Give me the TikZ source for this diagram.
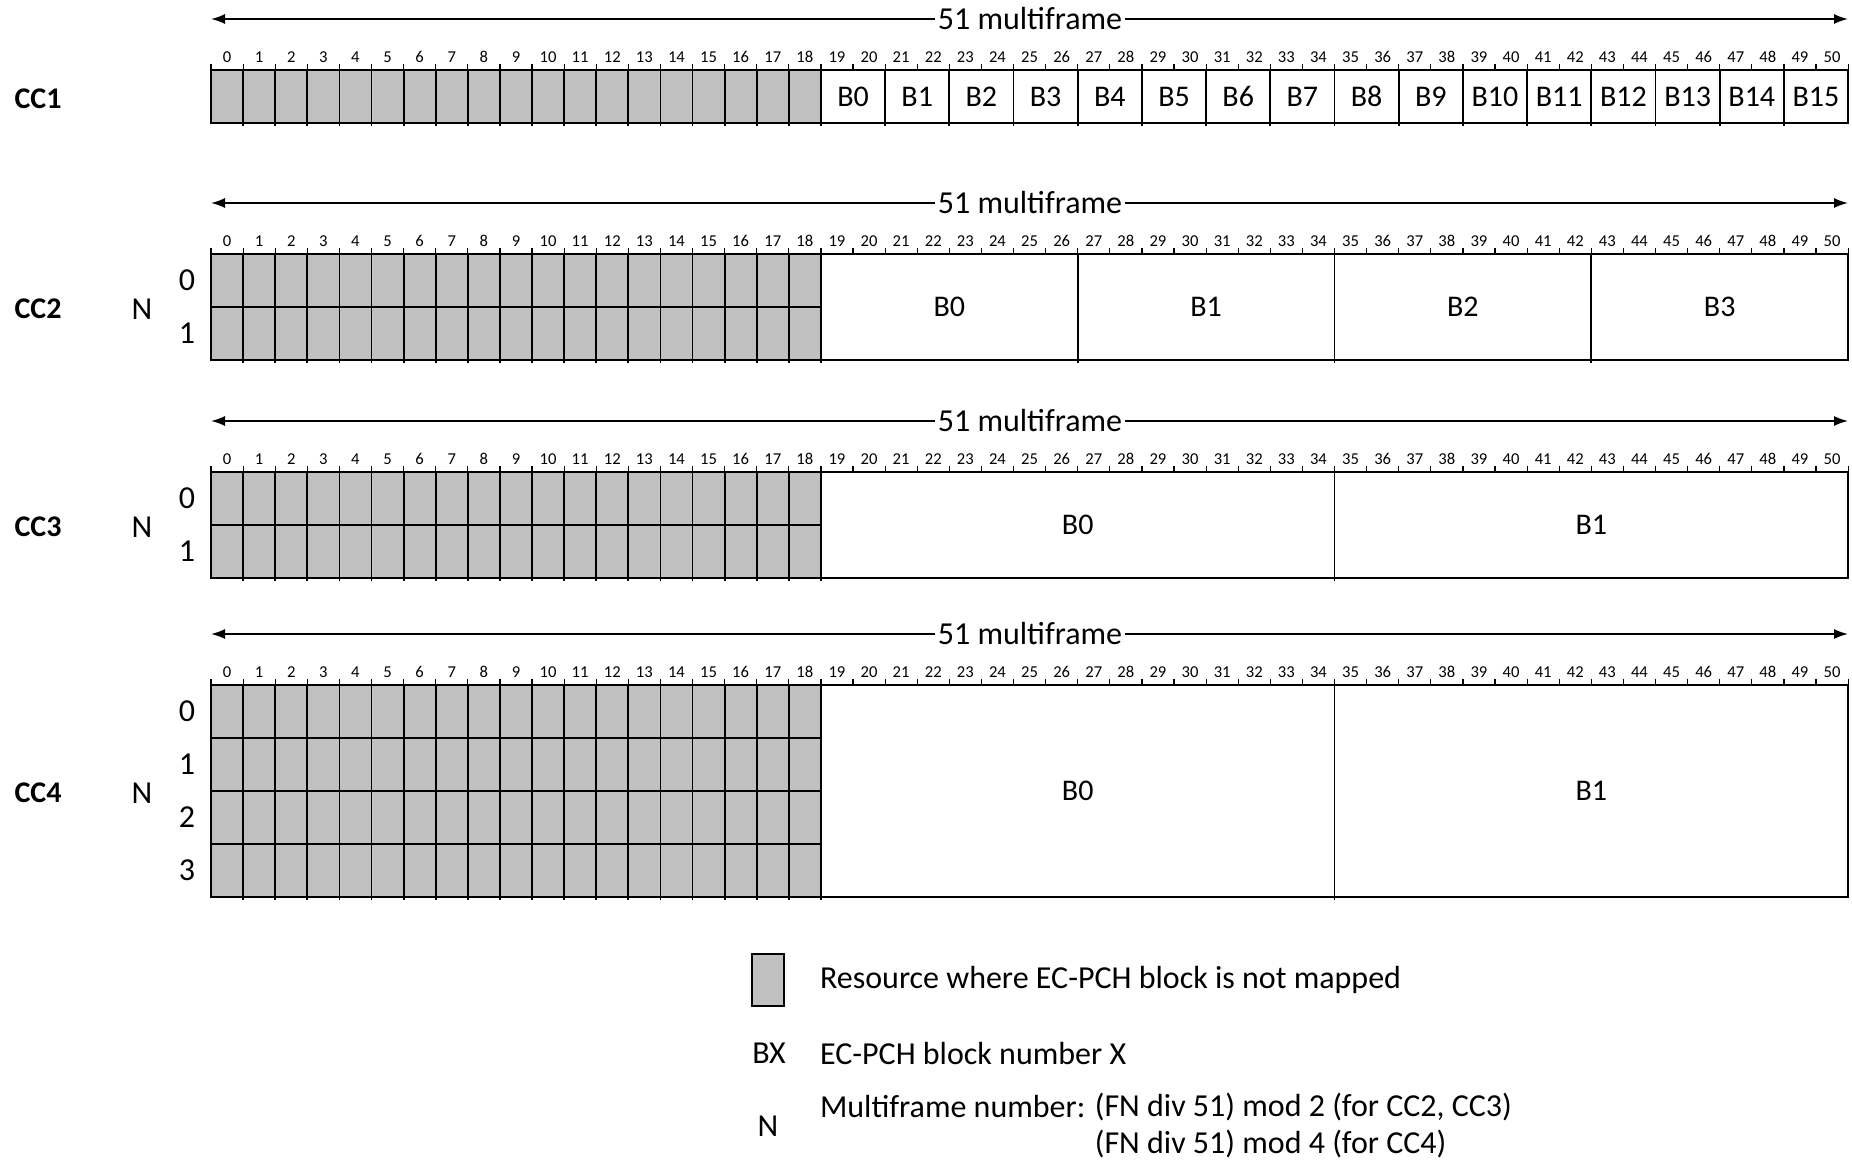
\documentclass[tikz,border=0pt]{standalone}
\usepackage{fontspec}
\setmainfont{Carlito}
\usepackage{tikz}
\usetikzlibrary{arrows.meta,calc,positioning}
\definecolor{Ink}{HTML}{000000}
\definecolor{Unmapped}{HTML}{C0C0C0}

\begin{document}
\begin{tikzpicture}[x=0.5pt,y=-0.5pt,>={Latex[length=7pt,width=5pt]},
  every node/.style={font=\fontsize{16}{19}\selectfont},
  ccname/.style={font=\fontsize{15}{18}\selectfont\bfseries},
  slotnum/.style={font=\fontsize{8.3}{9}\selectfont,inner sep=0pt},
  blockname/.style={font=\fontsize{15}{18}\selectfont},
  frame/.style={draw=Ink,line width=1.1pt},
  divider/.style={draw=Ink,line width=0.9pt},
  tickmark/.style={draw=Ink,line width=0.6pt},
  span/.style={->,draw=Ink,line width=0.8pt}]
  \useasboundingbox (0,0) rectangle (1852,1161);

  \foreach \cc/\ytop/\rows/\len in {1/70/1/2,2/254/2/8,3/472/2/16,4/685/4/16}{
    \pgfmathsetmacro\ybot{\ytop+53*\rows}
    \pgfmathsetmacro\ymid{(\ytop+\ybot)/2}
    \pgfmathtruncatemacro\nb{32/\len-1}
    \coordinate (l\cc) at (211,\ytop-51);
    \coordinate (r\cc) at (1848,\ytop-51);
    \node[fill=white,inner sep=1pt] (mf\cc) at (1030,\ytop-51) {51 multiframe};
    \draw[span] (mf\cc) -- (l\cc);
    \draw[span] (mf\cc) -- (r\cc);
    \fill[Unmapped] (211,\ytop) rectangle (820.9,\ybot);
    \foreach \i in {1,...,18}
      \draw[divider] ({211+32.1*\i},\ytop) -- ({211+32.1*\i},\ybot+3);
    \foreach \k in {1,2,3}{
      \ifnum\k<\rows \draw[divider] (211,{\ytop+53*\k}) -- (820.9,{\ytop+53*\k}); \fi
    }
    \foreach \j in {0,...,\nb}{
      \draw[divider] ({211+32.1*(19+\len*\j)},\ytop) -- ({211+32.1*(19+\len*\j)},\ybot+3);
      \node[blockname] (cc\cc b\j) at ({211+32.1*(19+\len*(\j+0.5))},\ymid) {B\j};
    }
    \draw[frame] (211,\ytop) rectangle (1848.1,\ybot);
    \foreach \i in {0,...,50}
      \node[slotnum] at ({211+32.1*(\i+0.5)},\ytop-13) {\i};
    \foreach \i in {0,...,51}
      \draw[tickmark] ({211+32.1*\i},\ytop) -- ({211+32.1*\i},\ytop-6);
    \node[ccname] (cc\cc) at (38,\ymid+2) {CC\cc};
    \ifnum\cc>1
      \node (n\cc) at (142,\ymid+2) {N};
      \foreach \k in {1,...,\rows}{
        \node (n\cc r\k) at (187,{\ytop+53*(\k-0.5)}) {\the\numexpr\k-1\relax};
      }
    \fi
  }

  \node[draw=Ink,fill=Unmapped,line width=0.8pt,minimum width=16pt,minimum height=26pt,inner sep=0pt] (keybox) at (768,980) {};
  \node[anchor=west] (keytext) at (813,980) {Resource where EC-PCH block is not mapped};
  \node (keybx) at (769,1053) {BX};
  \node[anchor=west] (keybxtext) at (813,1053) {EC-PCH block number X};
  \node (keyn) at (768,1126) {N};
  \node[anchor=west] (keyntext) at (813,1107) {Multiframe number:};
  \node[anchor=west,inner sep=1pt] (keymod2) at (keyntext.east) {(FN div 51) mod 2 (for CC2, CC3)};
  \node[anchor=base west,inner sep=1pt] (keymod4) at ($(keymod2.base west)+(0,37)$) {(FN div 51) mod 4 (for CC4)};
\end{tikzpicture}
\end{document}
